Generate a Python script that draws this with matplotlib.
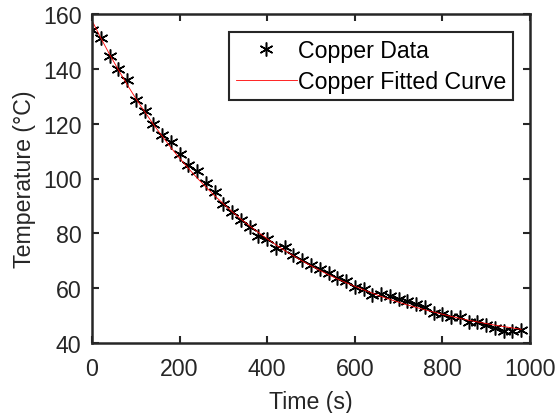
import numpy as np
import matplotlib
matplotlib.use('Agg')
import matplotlib.pyplot as plt

time_s = list(range(0, 1000, 20))

copper_data = [154.3, 151.1, 144.8, 139.9, 135.9, 128.7, 124.7, 119.9, 115.9, 113.2,
               108.9, 105.0, 102.7, 98.3, 95.0, 90.7, 87.7, 84.9, 82.2, 79.0,
               78.1, 74.7, 75.0, 72.2, 70.2, 68.3, 67.0, 65.6, 63.6, 62.7,
               60.5, 59.7, 57.5, 57.8, 57.0, 56.2, 55.2, 54.4, 53.0, 50.8,
               50.6, 49.4, 49.6, 47.6, 47.6, 46.4, 45.4, 44.4, 44.2, 44.6]

copper_fit = [157.6, 151.3, 145.3, 139.7, 134.3, 129.2, 124.4, 119.8, 115.5, 111.3,
              107.4, 103.7, 100.2, 96.9, 93.7, 90.8, 87.9, 85.2, 82.7, 80.3,
              78.0, 75.8, 73.7, 71.8, 69.9, 68.2, 66.5, 64.9, 63.4, 62.0,
              60.7, 59.4, 58.2, 57.0, 55.9, 54.9, 53.9, 53.0, 52.1, 51.3,
              50.5, 49.7, 49.0, 48.3, 47.7, 47.1, 46.5, 46.0, 45.5, 45.0]

xticks = [0, 200, 400, 600, 800, 1000]
yticks = [40, 60, 80, 100, 120, 140, 160]

txt = '#262626'
plt.rcParams['font.family'] = ['Liberation Sans', 'DejaVu Sans']
plt.rcParams['font.size'] = 16.7

fig = plt.figure(figsize=(5.56, 4.14), dpi=100)
ax = fig.add_axes([92/556, 70/414, 438/556, 329/414])

ax.plot(time_s, copper_data, linestyle='none', marker=(6, 2, 0), color='k',
        markersize=10, markeredgewidth=1.1, label='Copper Data')
ax.plot(time_s, copper_fit, color='red', linewidth=0.6, label='Copper Fitted Curve')

ax.set_xlim(0, 1000)
ax.set_ylim(40, 160)
ax.set_xticks(xticks)
ax.set_yticks(yticks)
ax.tick_params(direction='in', top=True, right=True, length=5, width=1.5,
               colors=txt, labelcolor=txt)
ax.tick_params(axis='x', pad=10)
ax.tick_params(axis='y', pad=7.5)
for s in ax.spines.values():
    s.set_linewidth(1.8)
    s.set_color(txt)

ax.set_xlabel('Time (s)', color=txt, labelpad=7)
ax.set_ylabel('Temperature (°C)', color=txt, labelpad=5)

leg = ax.legend(loc='upper right', bbox_to_anchor=(0.961, 0.945), borderaxespad=0,
                fancybox=False, framealpha=1, edgecolor=txt, handlelength=2.6,
                handletextpad=0.05, labelspacing=0.35, borderpad=0.3)
leg.get_frame().set_linewidth(1.5)
for t in leg.get_texts():
    t.set_color('k')

fig.savefig('out.png', dpi=100)
